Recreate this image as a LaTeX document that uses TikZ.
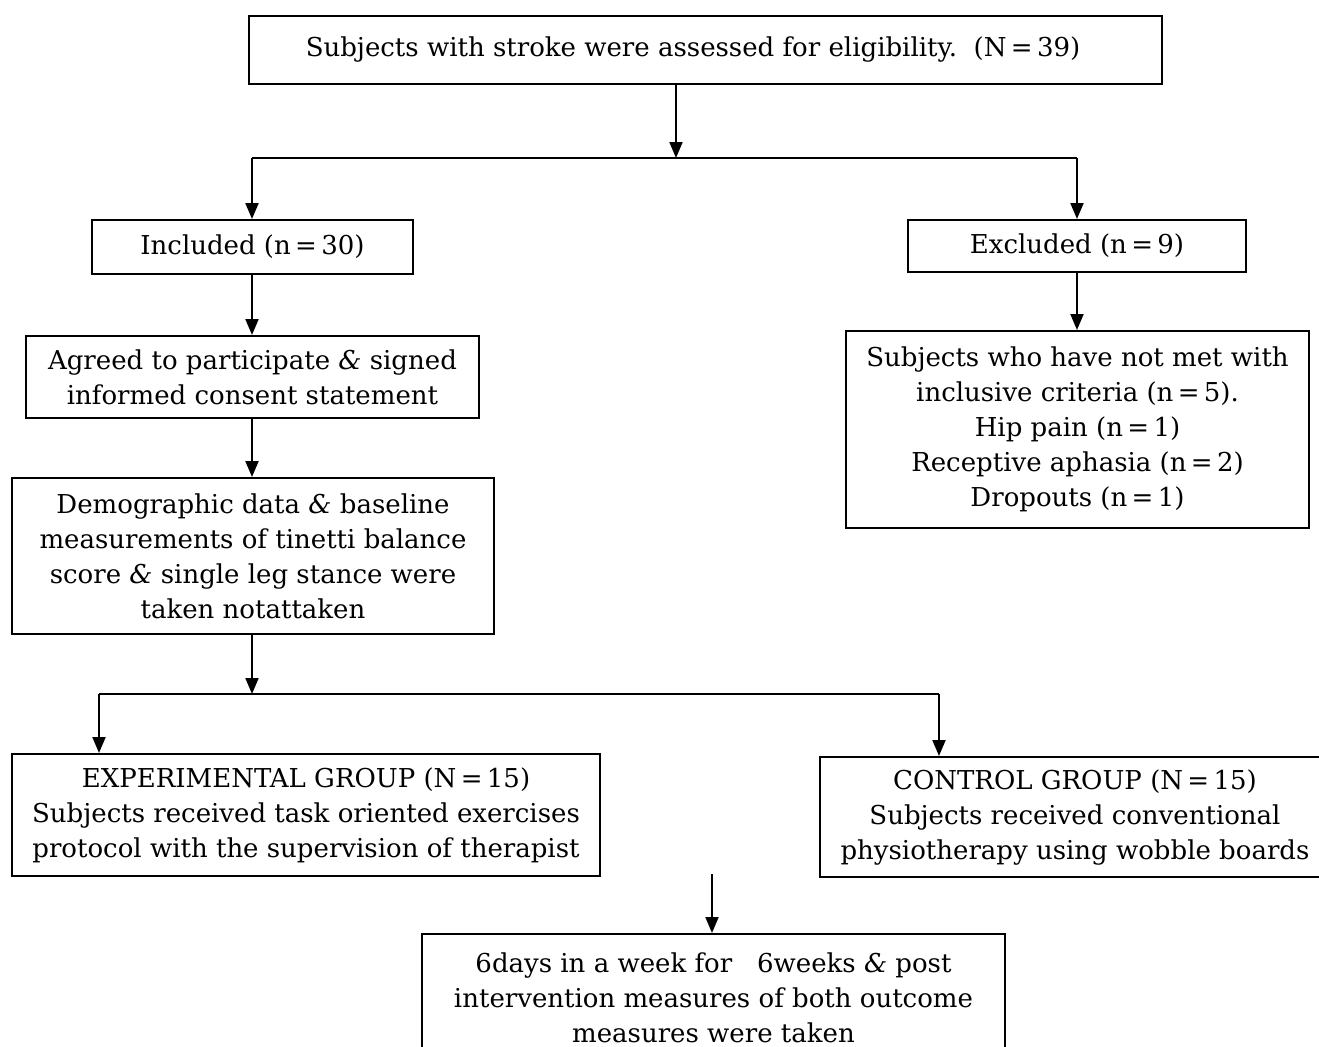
\documentclass[tikz,border=0pt]{standalone}
\usepackage{fontspec}
\setmainfont{DejaVu Serif}
\usetikzlibrary{arrows.meta}
\begin{document}
\begin{tikzpicture}[x=0.5pt,y=-0.5pt,
  box/.style={draw,line width=1pt,align=center,inner sep=0pt,
    font=\fontsize{13}{17.5}\selectfont},
  arr/.style={line width=1pt,-{Triangle[length=8pt,width=6.5pt]}},
  ln/.style={line width=1pt}]
\useasboundingbox (0,0) rectangle (1319,1046);
\node[box,minimum width=456.5pt,minimum height=34pt] (top) at (705,50)
  {Subjects with stroke were assessed for eligibility.\ \ (N\,=\,39)\hspace*{12pt}};
\node[box,minimum width=160.5pt,minimum height=27pt] (incl) at (252.5,247)
  {Included (n\,=\,30)};
\node[box,minimum width=169pt,minimum height=26pt] (excl) at (1077,246)
  {Excluded (n\,=\,9)};
\node[box,minimum width=226.5pt,minimum height=41pt] (agree) at (252.5,377)
  {Agreed to participate \textit{\&} signed\\informed consent statement};
\node[box,minimum width=241pt,minimum height=78pt] (demo) at (253,556)
  {Demographic data \textit{\&} baseline\\measurements of tinetti balance\\score \textit{\&} single leg stance were\\taken notattaken};
\node[box,minimum width=231.5pt,minimum height=98.5pt] (exdet) at (1077.5,429.5)
  {Subjects who have not met with\\inclusive criteria (n\,=\,5).\\Hip pain (n\,=\,1)\\Receptive aphasia (n\,=\,2)\\Dropouts (n\,=\,1)};
\node[box,minimum width=294pt,minimum height=61pt] (exp) at (306,815)
  {EXPERIMENTAL GROUP (N\,=\,15)\\Subjects received task oriented exercises\\protocol with the supervision of therapist};
\node[box,minimum width=255pt,minimum height=60pt] (ctrl) at (1075,817)
  {CONTROL GROUP (N\,=\,15)\\Subjects received conventional\\physiotherapy using wobble boards};
\node[box,minimum width=291.5pt,minimum height=65pt,anchor=north] (post) at (713.5,933)
  {};
\node[font=\fontsize{13}{17.5}\selectfont,align=center,anchor=north,inner sep=0pt] (posttext) at (713.5,952)
  {6days in a week for\ \ \ 6weeks \textit{\&} post\\intervention measures of both outcome\\measures were taken};
% first split
\coordinate (s1) at (676,158);
\coordinate (s1l) at (252,158);
\coordinate (s1r) at (1077,158);
\draw[arr] (top.south -| s1) -- (s1);
\draw[ln] (s1l) -- (s1r);
\draw[arr] (s1l) -- (incl.north -| s1l);
\draw[arr] (s1r) -- (excl.north -| s1r);
\draw[arr] (incl.south -| s1l) -- (agree.north -| s1l);
\draw[arr] (agree.south -| s1l) -- (demo.north -| s1l);
\draw[arr] (excl.south -| s1r) -- (exdet.north -| s1r);
% second split
\coordinate (s2) at (252,694);
\coordinate (s2l) at (99,694);
\coordinate (s2r) at (939,694);
\draw[arr] (demo.south -| s2) -- (s2);
\draw[ln] (s2l) -- (s2r);
\draw[arr] (s2l) -- (exp.north -| s2l);
\draw[arr] (s2r) -- (ctrl.north -| s2r);
\coordinate (free) at (712,874);
\draw[arr] (free) -- (post.north -| free);
\end{tikzpicture}
\end{document}
